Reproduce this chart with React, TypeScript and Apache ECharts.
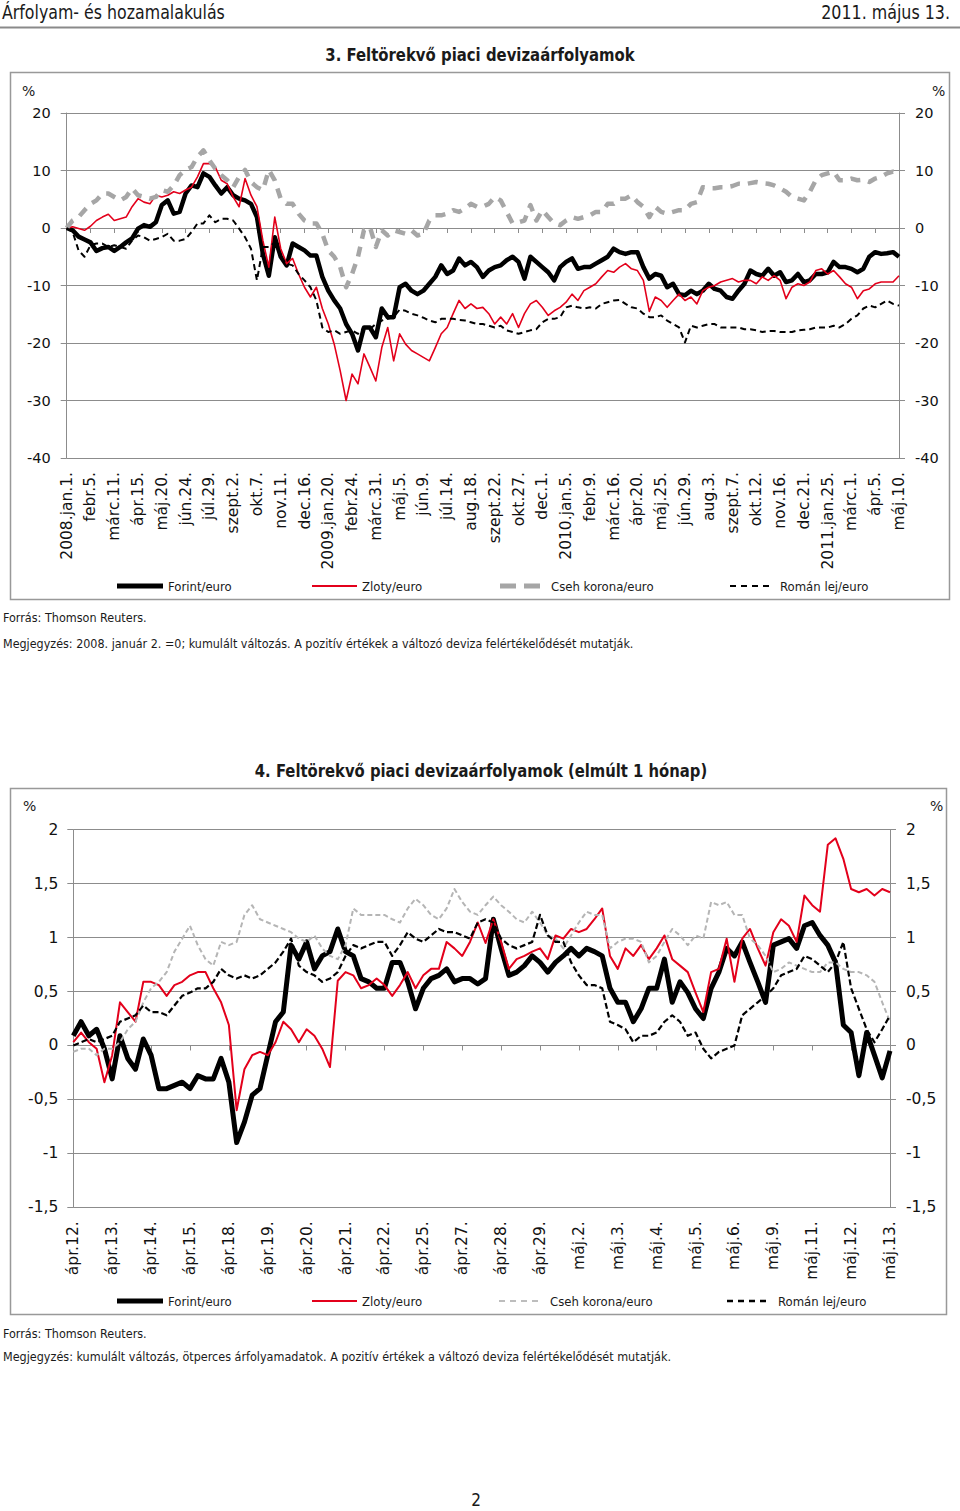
import React, { useEffect, useRef } from "react";
import * as echarts from "echarts";

// ---------- Chart 1 data (4 points per 5-week label interval) ----------
const LABELS1 = ["2008.jan.1.", "febr.5.", "márc.11.", "ápr.15.", "máj.20.", "jún.24.", "júl.29.", "szept.2.", "okt.7.", "nov.11.", "dec.16.", "2009.jan.20.", "febr.24.", "márc.31.", "máj.5.", "jún.9.", "júl.14.", "aug.18.", "szept.22.", "okt.27.", "dec.1.", "2010.jan.5.", "febr.9.", "márc.16.", "ápr.20.", "máj.25.", "jún.29.", "aug.3.", "szept.7.", "okt.12.", "nov.16.", "dec.21.", "2011.jan.25.", "márc.1.", "ápr.5.", "máj.10."];
const K1 = 4;

const FORINT1 = [
  0, -0.4, -1.5, -2, -2.5, -4, -3.5, -3.3, -4, -3.3,
  -2.5, -1.8, -0.1, 0.5, 0.2, 1, 4, 4.8, 2.5, 2.8,
  6, 7.4, 7.1, 9.5, 8.9, 7.4, 6, 7.1, 5.7, 5.1,
  4.8, 4.2, 1.9, -4.5, -8.3, -1.6, -5, -6.5, -2.7, -3.3,
  -3.9, -4.8, -4.8, -8.5, -10.9, -12.6, -14, -16.7, -18.4, -21.3,
  -17.3, -17.3, -19, -14, -15.5, -15.5, -10.3, -9.7, -10.9, -11.5,
  -10.9, -9.7, -8.5, -6.5, -8, -7.4, -5.3, -6.5, -5.9, -6.8,
  -8.5, -7.4, -6.8, -6.5, -5.6, -5, -5.9, -8.8, -5, -5.9,
  -6.8, -7.7, -9.1, -6.8, -5.9, -5.3, -7.1, -6.8, -6.8, -6.2,
  -5.6, -5, -3.6, -4.2, -4.5, -4.2, -4.2, -6.8, -8.8, -8,
  -8.3, -10.3, -9.7, -11.5, -11.7, -10.9, -11.5, -10.9, -9.7, -10.6,
  -10.9, -12, -12.3, -10.9, -9.7, -7.4, -8, -8.3, -7.1, -8.3,
  -7.7, -9.4, -9.1, -8, -9.4, -9.1, -8, -8, -7.7, -5.9,
  -6.8, -6.8, -7.1, -7.7, -7.1, -5, -4.2, -4.5, -4.4, -4.2, -5,
];
const ZLOTY1 = [
  0, 0.2, -0.1, -0.4, 0.3, 1.3, 1.9, 2.4, 1.3, 1.6,
  1.9, 3.7, 5.1, 4.5, 4.2, 5.7, 5.4, 5.7, 6.3, 6,
  6.6, 7.1, 8.9, 11.2, 11.2, 10.6, 8.3, 7.7, 5.4, 3.7,
  8.6, 5.7, 3.7, -2.2, -6.8, 1.9, -3.6, -6.2, -5.3, -8,
  -10.3, -12, -10.3, -14, -16.7, -20.2, -24.8, -30, -25.4, -27.1,
  -21.9, -24.2, -26.6, -20.8, -17.3, -23.1, -18.4, -20.2, -21.3, -21.9,
  -22.5, -23.1, -20.8, -18.4, -17.3, -14.9, -12.6, -14, -13.2, -14,
  -13.8, -14.9, -16.7, -15.5, -16.7, -14.9, -17.3, -14.9, -13.2, -12.6,
  -13.8, -15.2, -14.4, -13.8, -12.9, -11.5, -12.6, -10.9, -10.3, -9.7,
  -8.5, -7.4, -7.7, -6.8, -6.2, -7.1, -7.4, -9.1, -14.5, -12,
  -12.6, -13.8, -12.6, -11.5, -12.6, -12, -13.2, -10.9, -10.3, -10,
  -9.4, -9.1, -8.8, -9.4, -9.1, -9.1, -9.7, -8.5, -9.1, -8.3,
  -9.1, -12.3, -10.3, -9.7, -10, -9.4, -7.4, -7.1, -8, -7.4,
  -8.5, -9.7, -10.3, -12.3, -10.9, -10.6, -9.7, -9.4, -9.4, -9.4, -8.3,
];
const CSEH1 = [
  0, 1.3, 1.9, 3.1, 4.2, 4.8, 6, 6, 5.4, 4.8,
  5.4, 6.9, 5.7, 5.4, 5.1, 5.4, 6.6, 6.3, 7.4, 9.2,
  10.1, 10.6, 12.4, 13.5, 11.8, 10.3, 9.2, 8.3, 7.1, 8.9,
  10.1, 8, 7.1, 6.6, 10.1, 8.3, 5.1, 4.2, 4.2, 2.5,
  1.3, 0.8, 0.8, -1, -3.9, -5, -6.8, -10.3, -8, -5,
  -0.4, 0.2, -3.3, -0.4, -1.3, -0.4, -0.7, -1, -0.4, -1.3,
  -1, 1.3, 2.2, 2.2, 2.5, 3.1, 2.8, 3.4, 4.2, 3.7,
  3.7, 4.2, 5.4, 4.8, 2.8, 0.8, 1, 1.3, 4, 1.3,
  3.1, 1.9, 0.8, 0.5, 1.3, 1.9, 1.6, 1.9, 2.2, 2.8,
  2.8, 4.2, 4.2, 5.1, 5.1, 5.7, 4.5, 3.7, 1.9, 3.7,
  2.8, 2.5, 2.8, 3.1, 3.1, 4.2, 4.5, 7.1, 6.9, 6.9,
  7.1, 7.1, 7.3, 7.7, 7.6, 7.8, 8, 7.8, 7.7, 7.4,
  6.9, 6.3, 5.4, 5.1, 4.8, 6.3, 8.3, 9.2, 9.5, 9.8,
  8.3, 8.3, 8.6, 8.3, 8.4, 8, 8.6, 8.9, 9.5, 9.8, 9.5,
];
const ROMAN1 = [
  0, -0.7, -3.9, -5, -3, -2.7, -2.7, -3.3, -3, -3.3,
  -3.6, -2.2, -1.3, -1.6, -2.2, -1.9, -1.6, -1, -2.2, -2.2,
  -1.9, -0.7, 0.8, 0.8, 2.2, 1, 1.6, 1.6, 1.3, -0.1,
  -1.6, -3.6, -9.1, -3.3, -3.3, -2.5, -5, -6.2, -6.5, -8,
  -9.1, -10.3, -12.6, -17.3, -18.1, -17.8, -18.4, -18.1, -17.8, -18.4,
  -17.3, -17.6, -16.7, -16.1, -15.8, -15.5, -14.2, -14.4, -14.9, -15.2,
  -15.6, -16.1, -16.4, -15.8, -15.8, -15.8, -16, -16.1, -16.4, -16.7,
  -16.7, -17, -17.3, -17, -17.8, -18.1, -18.4, -18.1, -17.8, -17.6,
  -16.4, -15.8, -15.8, -15.5, -13.8, -13.5, -13.8, -14, -13.8, -14,
  -13.2, -12.9, -12.6, -12.5, -13.2, -13.8, -14, -14.9, -15.5, -15.5,
  -15.2, -16.1, -16.7, -17.3, -19.9, -17, -17.3, -17, -16.7, -16.7,
  -17.3, -17.3, -17.3, -17.3, -17.6, -17.6, -17.8, -18.1, -17.9, -17.9,
  -18.1, -18.1, -18.1, -17.8, -17.7, -17.6, -17.3, -17.3, -17.3, -17,
  -17.3, -16.7, -15.8, -15.2, -14, -13.5, -13.8, -13.2, -12.6, -13.2, -13.5,
];

// ---------- Chart 2 data (5 points per trading day) ----------
const LABELS2 = ["ápr.12.", "ápr.13.", "ápr.14.", "ápr.15.", "ápr.18.", "ápr.19.", "ápr.20.", "ápr.21.", "ápr.22.", "ápr.25.", "ápr.27.", "ápr.28.", "ápr.29.", "máj.2.", "máj.3.", "máj.4.", "máj.5.", "máj.6.", "máj.9.", "máj.11.", "máj.12.", "máj.13."];
const K2 = 5;

const FORINT2 = [
  0.09, 0.22, 0.09, 0.15, -0.03, -0.31, 0.09, -0.12, -0.22, 0.06,
  -0.09, -0.4, -0.4, -0.37, -0.34, -0.4, -0.28, -0.31, -0.31, -0.12,
  -0.34, -0.9, -0.71, -0.46, -0.4, -0.09, 0.22, 0.31, 0.93, 0.8,
  0.96, 0.71, 0.83, 0.87, 1.08, 0.87, 0.83, 0.62, 0.59, 0.53,
  0.53, 0.77, 0.77, 0.59, 0.34, 0.53, 0.62, 0.65, 0.71, 0.59,
  0.62, 0.62, 0.57, 0.62, 1.17, 0.9, 0.65, 0.68, 0.74, 0.83,
  0.77, 0.68, 0.77, 0.83, 0.9, 0.83, 0.9, 0.87, 0.83, 0.53,
  0.4, 0.4, 0.22, 0.34, 0.53, 0.53, 0.8, 0.4, 0.59, 0.49,
  0.34, 0.25, 0.53, 0.68, 0.9, 0.83, 0.96, 0.77, 0.59, 0.4,
  0.93, 0.96, 0.99, 0.9, 1.11, 1.14, 1.02, 0.93, 0.77, 0.19,
  0.12, -0.28, 0.12, -0.09, -0.3, -0.05,
];
const ZLOTY2 = [
  0.03, 0.12, 0.03, -0.03, -0.34, -0.09, 0.4, 0.31, 0.22, 0.59,
  0.59, 0.56, 0.46, 0.56, 0.59, 0.65, 0.68, 0.68, 0.53, 0.4,
  0.19, -0.6, -0.22, -0.09, -0.06, -0.09, 0.03, 0.22, 0.15, 0.03,
  0.15, 0.09, -0.03, -0.2, 0.6, 0.68, 0.65, 0.53, 0.56, 0.62,
  0.56, 0.46, 0.56, 0.68, 0.53, 0.65, 0.71, 0.71, 0.96, 0.9,
  0.83, 0.96, 1.14, 0.95, 1.17, 0.96, 0.71, 0.8, 0.83, 0.87,
  0.9, 0.8, 1.02, 0.99, 1.08, 1.05, 1.08, 1.17, 1.27, 0.83,
  0.71, 0.9, 0.83, 0.93, 0.8, 0.9, 1.02, 0.8, 0.74, 0.68,
  0.49, 0.31, 0.68, 0.71, 0.99, 0.59, 0.99, 1.08, 0.9, 0.74,
  1.05, 1.17, 1.11, 0.96, 1.39, 1.3, 1.24, 1.86, 1.92, 1.73,
  1.45, 1.42, 1.45, 1.39, 1.45, 1.42,
];
const CSEH2 = [
  -0.06, -0.03, -0.03, -0.09, -0.03, -0.03, 0.03, 0.15, 0.22, 0.4,
  0.53, 0.59, 0.68, 0.87, 0.99, 1.11, 0.93, 0.8, 0.74, 0.96,
  0.93, 0.96, 1.21, 1.3, 1.17, 1.14, 1.11, 1.08, 1.05, 0.99,
  0.96, 1.02, 0.9, 0.83, 0.8, 0.93, 1.27, 1.21, 1.21, 1.21,
  1.21, 1.17, 1.14, 1.27, 1.36, 1.3, 1.21, 1.17, 1.27, 1.45,
  1.33, 1.24, 1.21, 1.3, 1.38, 1.3, 1.24, 1.17, 1.14, 1.24,
  1.14, 1.02, 0.99, 0.9, 1.02, 1.14, 1.24, 1.21, 1.21, 0.9,
  0.96, 0.99, 0.99, 0.96, 0.77, 0.83, 0.96, 1.08, 1.02, 0.93,
  1.02, 0.99, 1.33, 1.3, 1.33, 1.21, 1.21, 0.99, 0.93, 0.83,
  0.68, 0.71, 0.77, 0.74, 0.71, 0.68, 0.68, 0.77, 0.77, 0.71,
  0.68, 0.68, 0.65, 0.59, 0.4, 0.22,
];
const ROMAN2 = [
  0, 0.03, 0.06, 0.03, 0.06, 0.09, 0.22, 0.25, 0.28, 0.37,
  0.31, 0.31, 0.28, 0.37, 0.46, 0.49, 0.53, 0.53, 0.59, 0.71,
  0.65, 0.62, 0.65, 0.62, 0.65, 0.71, 0.77, 0.87, 0.99, 0.74,
  0.68, 0.65, 0.59, 0.62, 0.68, 0.83, 0.93, 0.9, 0.93, 0.96,
  0.96, 0.83, 0.93, 1.05, 0.99, 0.96, 1.02, 1.08, 1.05, 1.05,
  1.02, 0.99, 1.14, 1.17, 1.14, 0.99, 0.93, 0.9, 0.93, 0.96,
  1.21, 1.02, 0.96, 0.96, 0.77, 0.65, 0.56, 0.56, 0.53, 0.22,
  0.19, 0.15, 0.03, 0.09, 0.09, 0.12, 0.22, 0.28, 0.22, 0.09,
  0.12, -0.03, -0.12, -0.06, -0.03, 0, 0.28, 0.34, 0.4, 0.46,
  0.53, 0.65, 0.68, 0.71, 0.83, 0.8, 0.74, 0.68, 0.77, 0.96,
  0.53, 0.34, 0.15, 0.03, 0.15, 0.28,
];

const SERIES_NAMES = ["Forint/euro", "Zloty/euro", "Cseh korona/euro", "Román lej/euro"];

const NARROW = '"DejaVu Sans Condensed", "Liberation Sans", sans-serif';
const VER = '"DejaVu Sans", Verdana, sans-serif';
const AXIS_GRAY = "#8c8c8c";

function buildCats(labels: string[], k: number): string[] {
  const out: string[] = [];
  labels.forEach((l, i) => {
    out.push(l);
    if (i < labels.length - 1) for (let s = 1; s < k; s++) out.push(l + "#" + s);
  });
  return out;
}

function txt(x: number, y: number, text: string, size: number, opts: any = {}) {
  return {
    type: "text",
    silent: true,
    x,
    y,
    scaleX: opts.sx || 1,
    style: {
      text,
      x: 0,
      y: 0,
      fill: opts.fill || "#1a1a1a",
      fontSize: size,
      fontFamily: opts.family || NARROW,
      fontWeight: opts.weight || "normal",
      align: opts.align || "left",
      textAlign: opts.align || "left",
      verticalAlign: "middle",
      textVerticalAlign: "middle",
    },
  };
}

function seg(x1: number, y1: number, x2: number, y2: number, color: string, w: number, dash?: number[]) {
  return {
    type: "line",
    silent: true,
    shape: { x1, y1, x2, y2 },
    style: { stroke: color, lineWidth: w, lineDash: dash || null, lineCap: "butt" },
  };
}

function legend(y: number, xs: number[], txs: number[], cseh: any, roman: any) {
  return [
    seg(xs[0], y, xs[0] + 46, y, "#000", 5),
    txt(txs[0], y, SERIES_NAMES[0], 13),
    seg(xs[1], y, xs[1] + 45, y, "#e3001b", 2),
    txt(txs[1], y, SERIES_NAMES[1], 13),
    seg(xs[2], y, xs[2] + 41, y, cseh.color, cseh.width, cseh.dash),
    txt(txs[2], y, SERIES_NAMES[2], 13),
    seg(xs[3], y, xs[3] + 41, y, "#000", roman.width, roman.dash),
    txt(txs[3], y, SERIES_NAMES[3], 13),
  ];
}

export default function App() {
  const ref = useRef<HTMLDivElement>(null);

  useEffect(() => {
    document.body.style.margin = "0";
    if (!ref.current) return;
    const chart = echarts.init(ref.current, undefined, { renderer: "svg" });

    const cats1 = buildCats(LABELS1, K1);
    const cats2 = buildCats(LABELS2, K2);
    const show1 = (i: number) => i % K1 === 0;
    const show2 = (i: number) => i % K2 === 0;

    const zeroAxis = (grid: number, cats: string[], fn: any, yIdx: number) => ({
      type: "category",
      gridIndex: grid,
      data: cats,
      boundaryGap: false,
      position: "bottom",
      axisLine: { show: true, onZero: true, onZeroAxisIndex: yIdx, lineStyle: { color: AXIS_GRAY, width: 1 } },
      axisTick: { show: true, interval: fn, length: 5, lineStyle: { color: AXIS_GRAY } },
      axisLabel: { show: false },
      splitLine: { show: false },
    });
    const labelAxis = (grid: number, cats: string[], fn: any) => ({
      type: "category",
      gridIndex: grid,
      data: cats,
      boundaryGap: false,
      position: "bottom",
      axisLine: { show: false, onZero: false },
      axisTick: { show: false },
      axisLabel: {
        show: true,
        interval: fn,
        rotate: 90,
        margin: 14,
        fontSize: 15.5,
        fontFamily: VER,
        color: "#111",
      },
      splitLine: { show: false },
    });
    const yAx = (grid: number, pos: string, min: number, max: number, step: number, split: boolean, size: number, margin: number, fmt?: any) => ({
      type: "value",
      gridIndex: grid,
      position: pos,
      min,
      max,
      interval: step,
      axisLine: { show: true, lineStyle: { color: AXIS_GRAY, width: 1 } },
      axisTick: { show: true, length: 6, lineStyle: { color: AXIS_GRAY } },
      axisLabel: { fontSize: size, fontFamily: VER, color: "#111", margin, formatter: fmt },
      splitLine: { show: split, lineStyle: { color: AXIS_GRAY, width: 1 } },
    });
    const comma = (v: number) => String(v).replace(".", ",");

    const line = (name: string, data: number[], xi: number, yi: number, color: string, width: number, dash?: number[], z = 2) => ({
      name,
      type: "line",
      xAxisIndex: xi,
      yAxisIndex: yi,
      data,
      showSymbol: false,
      symbol: "none",
      z,
      lineStyle: { color, width, type: dash || "solid", cap: "butt", join: "round" },
    });

    const graphics: any[] = [
      txt(2, 12, "Árfolyam- és hozamalakulás", 19, { sx: 0.925 }),
      txt(950, 12, "2011. május 13.", 19, { align: "right", sx: 0.93 }),
      seg(0, 27.5, 960, 27.5, "#8a8a8a", 2),
      txt(480, 55, "3. Feltörekvő piaci devizaárfolyamok", 18, { weight: "bold", align: "center", sx: 0.92 }),
      {
        type: "rect",
        silent: true,
        shape: { x: 10.5, y: 72.5, width: 939, height: 527 },
        style: { fill: "none", stroke: "#999", lineWidth: 1.5 },
      },
      txt(22, 91, "%", 14, { family: VER }),
      txt(932, 91, "%", 14, { family: VER }),
      ...legend(586, [117, 312, 500, 730], [168, 362, 551, 780],
        { color: "#a6a6a6", width: 5, dash: [16, 8] },
        { width: 2, dash: [6, 5] }),
      txt(3, 617, "Forrás: Thomson Reuters.", 13, { sx: 0.96 }),
      txt(3, 643, "Megjegyzés: 2008. január 2. =0; kumulált változás. A pozitív értékek a változó deviza felértékelődését mutatják.", 13, { sx: 0.956 }),

      txt(481, 771, "4. Feltörekvő piaci devizaárfolyamok (elmúlt 1 hónap)", 18, { weight: "bold", align: "center", sx: 0.915 }),
      {
        type: "rect",
        silent: true,
        shape: { x: 10.5, y: 788.5, width: 936, height: 526 },
        style: { fill: "none", stroke: "#999", lineWidth: 1.5 },
      },
      txt(23, 806, "%", 14, { family: VER }),
      txt(930, 806, "%", 14, { family: VER }),
      ...legend(1301, [117, 312, 499, 727], [168, 362, 550, 778],
        { color: "#bdbdbd", width: 2, dash: [6, 5] },
        { width: 2.5, dash: [6, 5] }),
      txt(3, 1333, "Forrás: Thomson Reuters.", 13, { sx: 0.96 }),
      txt(3, 1356, "Megjegyzés: kumulált változás, ötperces árfolyamadatok. A pozitív értékek a változó deviza felértékelődését mutatják.", 13, { sx: 0.96 }),
      txt(476, 1500, "2", 17, { align: "center" }),
    ];

    chart.setOption({
      animation: false,
      backgroundColor: "#fff",
      textStyle: { fontFamily: VER },
      grid: [
        { left: 66.7, top: 113, width: 832.3, height: 345 },
        { left: 73.3, top: 829.7, width: 816.7, height: 377.6 },
      ],
      xAxis: [
        zeroAxis(0, cats1, show1, 0),
        labelAxis(0, cats1, show1),
        zeroAxis(1, cats2, show2, 2),
        labelAxis(1, cats2, show2),
      ],
      yAxis: [
        yAx(0, "left", -40, 20, 10, true, 14.5, 16),
        yAx(0, "right", -40, 20, 10, false, 14.5, 16),
        yAx(1, "left", -1.5, 2, 0.5, true, 15.5, 15, comma),
        yAx(1, "right", -1.5, 2, 0.5, false, 15.5, 16, comma),
      ],
      series: [
        line(SERIES_NAMES[0], FORINT1, 0, 0, "#000", 4.5, undefined, 2),
        line(SERIES_NAMES[1], ZLOTY1, 0, 0, "#e3001b", 1.6, undefined, 3),
        line(SERIES_NAMES[2], CSEH1, 0, 0, "#a6a6a6", 4.5, [10, 8], 4),
        line(SERIES_NAMES[3], ROMAN1, 0, 0, "#000", 2, [6, 4], 5),
        line(SERIES_NAMES[0], FORINT2, 2, 2, "#000", 5, undefined, 2),
        line(SERIES_NAMES[1], ZLOTY2, 2, 2, "#e3001b", 2, undefined, 3),
        line(SERIES_NAMES[2], CSEH2, 2, 2, "#b5b5b5", 2, [5, 3], 4),
        line(SERIES_NAMES[3], ROMAN2, 2, 2, "#000", 2.2, [6, 3], 5),
      ],
      graphic: { elements: graphics },
    });

    return () => chart.dispose();
  }, []);

  return <div ref={ref} style={{ width: 960, height: 1511 }} />;
}
